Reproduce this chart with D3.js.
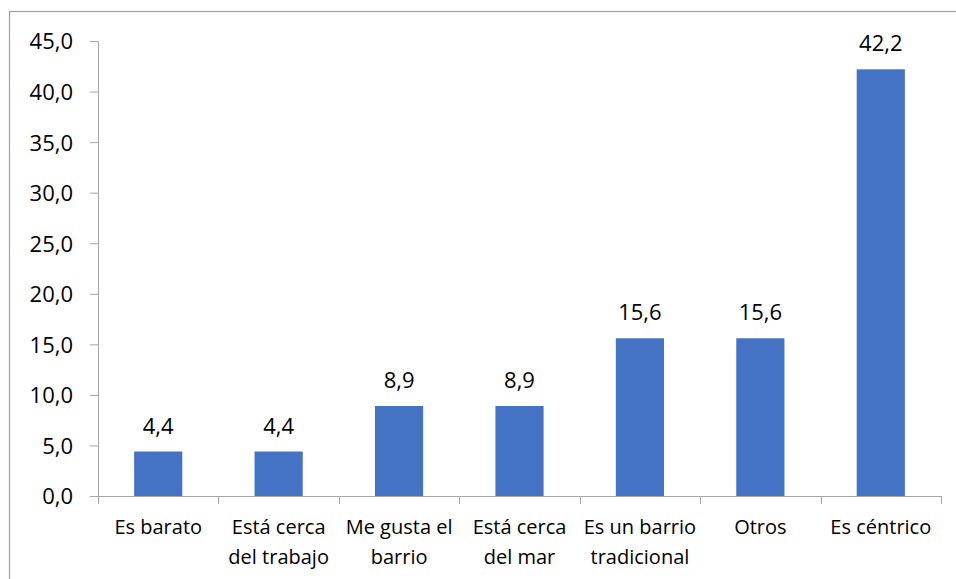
<!DOCTYPE html>
<html>
<head>
<meta charset="utf-8">
<script src="https://cdn.jsdelivr.net/npm/d3@7"></script>
<style>
  html, body { margin: 0; padding: 0; background: #fff; }
  svg { display: block; font-family: "Open Sans", sans-serif; }
</style>
</head>
<body>
<svg id="chart" width="956" height="579"></svg>
<script>
// chart data
const categories = [
  "Es barato",
  "Está cerca\ndel trabajo",
  "Me gusta el\nbarrio",
  "Está cerca\ndel mar",
  "Es un barrio\ntradicional",
  "Otros",
  "Es céntrico"
];
const values = [4.4, 4.4, 8.9, 8.9, 15.6, 15.6, 42.2];
const yTicks = [0, 5, 10, 15, 20, 25, 30, 35, 40, 45];

const W = 956, H = 579;
const margin = { top: 41, right: 15, bottom: 83, left: 98 };
const plotW = 941 - margin.left;
const plotH = 496 - margin.top;

const fmt = v => v.toFixed(1).replace('.', ',');
const axisColor = '#a6a6a6';

const svg = d3.select('#chart');

// outer frame (extends past right/bottom edges like the cropped original)
svg.append('rect')
  .attr('x', 9.5).attr('y', 11.5)
  .attr('width', W).attr('height', H)
  .attr('fill', 'none').attr('stroke', '#a0a0a0').attr('stroke-width', 1.2);

const g = svg.append('g').attr('transform', `translate(${margin.left},${margin.top})`);

const x = d3.scaleBand().domain(categories).range([0, plotW]).padding(0);
const y = d3.scaleLinear().domain([0, 45]).range([plotH, 0]);

// y axis
const yAxis = g.append('g').call(
  d3.axisLeft(y).tickValues(yTicks).tickFormat(fmt).tickSize(8).tickPadding(17)
);
yAxis.select('.domain').attr('stroke', axisColor).attr('d', `M-8,0.5H0.5V${plotH}`);
yAxis.selectAll('.tick line').attr('stroke', axisColor);
yAxis.selectAll('.tick text')
  .attr('fill', '#000').attr('font-size', '22px').attr('dy', '0.36em')
  .attr('font-family', '"Open Sans", sans-serif');

// x axis baseline and category separators
g.append('line')
  .attr('x1', 0).attr('x2', plotW)
  .attr('y1', plotH + 0.5).attr('y2', plotH + 0.5)
  .attr('stroke', axisColor);
const seps = categories.map(c => x(c)).concat([plotW]);
g.selectAll('.sep').data(seps).join('line')
  .attr('class', 'sep')
  .attr('x1', d => Math.round(d) + 0.5).attr('x2', d => Math.round(d) + 0.5)
  .attr('y1', plotH).attr('y2', plotH + 8)
  .attr('stroke', axisColor);

// bars
const barW = x.bandwidth() * 0.4;
g.selectAll('.bar').data(values).join('rect')
  .attr('class', 'bar')
  .attr('x', (d, i) => x(categories[i]) + (x.bandwidth() - barW) / 2)
  .attr('y', d => y(d))
  .attr('width', barW)
  .attr('height', d => plotH - y(d))
  .attr('fill', '#4472c4');

// value labels
g.selectAll('.val').data(values).join('text')
  .attr('class', 'val')
  .attr('x', (d, i) => x(categories[i]) + x.bandwidth() / 2)
  .attr('y', d => y(d) - 18)
  .attr('text-anchor', 'middle')
  .attr('font-size', '22px')
  .attr('fill', '#000')
  .text(fmt);

// category labels
const cat = g.selectAll('.cat').data(categories).join('text')
  .attr('class', 'cat')
  .attr('text-anchor', 'middle')
  .attr('font-size', '20px')
  .attr('fill', '#000')
  .attr('transform', d => `translate(${x(d) + x.bandwidth() / 2},${plotH + 38})`);
cat.selectAll('tspan').data(d => d.split('\n')).join('tspan')
  .attr('x', 0)
  .attr('y', (d, i) => i * 30)
  .text(d => d);
</script>
</body>
</html>
